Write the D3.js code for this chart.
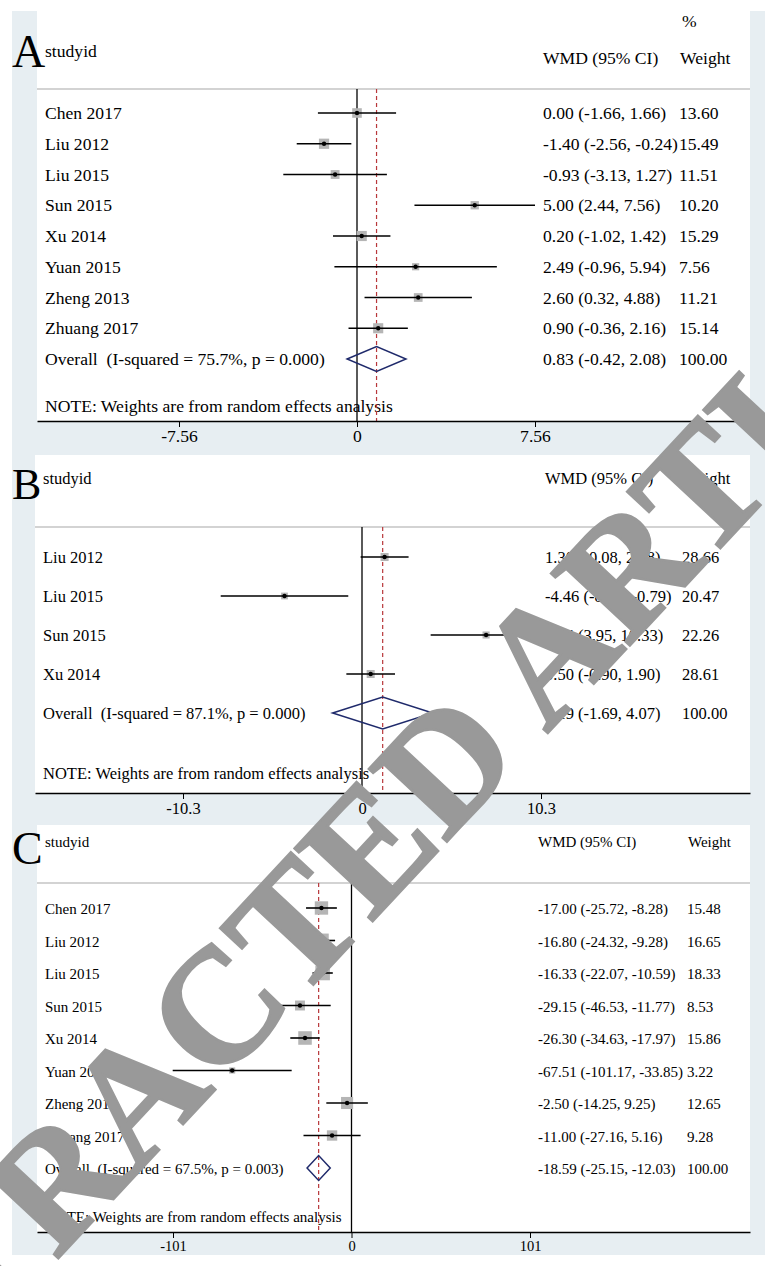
<!DOCTYPE html>
<html>
<head>
<meta charset="utf-8">
<script src="https://cdn.jsdelivr.net/npm/d3@7"></script>
<style>
body{margin:0;background:#fff}
svg text{font-family:"Liberation Serif","Times New Roman",serif;fill:#000;white-space:pre}
</style>
</head>
<body>
<div id="chart"></div>
<script>
// ---- data ----
var studiesA = ["Chen 2017","Liu 2012","Liu 2015","Sun 2015","Xu 2014","Yuan 2015","Zheng 2013","Zhuang 2017"];
var wmdA    = [0.00,-1.40,-0.93,5.00,0.20,2.49,2.60,0.90];
var loA     = [-1.66,-2.56,-3.13,2.44,-1.02,-0.96,0.32,-0.36];
var hiA     = [1.66,-0.24,1.27,7.56,1.42,5.94,4.88,2.16];
var weightA = [13.60,15.49,11.51,10.20,15.29,7.56,11.21,15.14];
var overallA = [0.83,-0.42,2.08];
var hetA = "Overall  (I-squared = 75.7%, p = 0.000)";
var ticksA = [-7.56,0,7.56];
var tickLabelsA = ["-7.56","0","7.56"];

var studiesB = ["Liu 2012","Liu 2015","Sun 2015","Xu 2014"];
var wmdB    = [1.30,-4.46,7.14,0.50];
var loB     = [-0.08,-8.13,3.95,-0.90];
var hiB     = [2.68,-0.79,10.33,1.90];
var weightB = [28.66,20.47,22.26,28.61];
var overallB = [1.19,-1.69,4.07];
var hetB = "Overall  (I-squared = 87.1%, p = 0.000)";
var ticksB = [-10.3,0,10.3];
var tickLabelsB = ["-10.3","0","10.3"];

var studiesC = ["Chen 2017","Liu 2012","Liu 2015","Sun 2015","Xu 2014","Yuan 2015","Zheng 2013","Zhuang 2017"];
var wmdC    = [-17.00,-16.80,-16.33,-29.15,-26.30,-67.51,-2.50,-11.00];
var loC     = [-25.72,-24.32,-22.07,-46.53,-34.63,-101.17,-14.25,-27.16];
var hiC     = [-8.28,-9.28,-10.59,-11.77,-17.97,-33.85,9.25,5.16];
var weightC = [15.48,16.65,18.33,8.53,15.86,3.22,12.65,9.28];
var overallC = [-18.59,-25.15,-12.03];
var hetC = "Overall  (I-squared = 67.5%, p = 0.003)";
var ticksC = [-101,0,101];
var tickLabelsC = ["-101","0","101"];

var note = "NOTE: Weights are from random effects analysis";

// ---- layout ----
var W = 765, H = 1266;
var panels = [
  {letter:"A", studies:studiesA, wmd:wmdA, lo:loA, hi:hiA, weight:weightA, overall:overallA, het:hetA, ticks:ticksA, tickLabels:tickLabelsA,
   top:11, axisY:421, left:37, sepY:89, fs:17.6, letterFs:46, letterY:67, headY:57, colHeadY:64, pct:true,
   rowTop:113, rowBottom:359, noteY:412, tickPx:[179,535], colWmd:543, colW:679, box:2.6, dia:12.5, tickFs:17.6},
  {letter:"B", studies:studiesB, wmd:wmdB, lo:loB, hi:hiB, weight:weightB, overall:overallB, het:hetB, ticks:ticksB, tickLabels:tickLabelsB,
   top:455, axisY:793, left:35, sepY:527, fs:16.5, letterFs:44, letterY:499, headY:484, colHeadY:484, pct:false,
   rowTop:557, rowBottom:713, noteY:779, tickPx:[183,541], colWmd:545, colW:682, box:1.5, dia:16, tickFs:16.5},
  {letter:"C", studies:studiesC, wmd:wmdC, lo:loC, hi:hiC, weight:weightC, overall:overallC, het:hetC, ticks:ticksC, tickLabels:tickLabelsC,
   top:825, axisY:1232, left:37, sepY:883, fs:15, letterFs:46, letterY:864, headY:847, colHeadY:847, pct:false,
   rowTop:908, rowBottom:1168, noteY:1222, tickPx:[173,530], colWmd:538, colW:687, box:3.4, dia:12.5, tickFs:14.5}
];
var plotRight = 750;
var f2 = d3.formatLocale({decimal:".", thousands:",", grouping:[3], currency:["",""], minus:"-"}).format(".2f");

var svg = d3.select("#chart").append("svg")
    .attr("width", W).attr("height", H);

// outer graph region
svg.append("rect").attr("x",12).attr("y",11).attr("width",W-12).attr("height",1244).attr("fill","#e7eef2");

panels.forEach(function(p){
  var g = svg.append("g");
  var x = d3.scaleLinear().domain([p.ticks[0], p.ticks[2]]).range(p.tickPx);
  var xa = x.copy().domain([x.invert(p.left), x.invert(plotRight)]).range([p.left, plotRight]);
  var rows = p.studies.concat(["Overall"]);
  var y = d3.scalePoint().domain(rows).range([p.rowTop, p.rowBottom]);

  g.append("rect").attr("x",p.left).attr("y",p.top).attr("width",plotRight-p.left).attr("height",p.axisY-p.top).attr("fill","#fff");

  // headers
  g.append("text").text(p.letter).attr("x",12).attr("y",p.letterY).style("font-size",p.letterFs+"px");
  g.append("text").text("studyid").attr("x",p.left+8).attr("y",p.headY).style("font-size",p.fs+"px");
  g.append("text").text("WMD (95% CI)").attr("x",p.colWmd).attr("y",p.colHeadY).style("font-size",p.fs+"px");
  g.append("text").text("Weight").attr("x",p.colW+1).attr("y",p.colHeadY).style("font-size",p.fs+"px");
  if (p.pct) g.append("text").text("%").attr("x",p.colW+3).attr("y",p.top+16).style("font-size",p.fs+"px");

  g.append("line").attr("x1",p.left).attr("x2",plotRight).attr("y1",p.sepY).attr("y2",p.sepY)
    .attr("stroke","#c4c4c4").attr("stroke-width",1.3);

  // row labels and columns
  var labels = g.selectAll(".lab").data(rows).enter();
  labels.append("text").attr("class","lab").attr("x",p.left+8).attr("y",function(d){return y(d)+6;})
    .style("font-size",p.fs+"px")
    .text(function(d){return d==="Overall" ? p.het : d;});
  var est = p.studies.map(function(s,i){return {s:s, m:p.wmd[i], lo:p.lo[i], hi:p.hi[i], w:p.weight[i]};});
  est.push({s:"Overall", m:p.overall[0], lo:p.overall[1], hi:p.overall[2], w:100});
  g.selectAll(".ci").data(est).enter().append("text").attr("x",p.colWmd).attr("y",function(d){return y(d.s)+6;})
    .style("font-size",p.fs+"px")
    .text(function(d){return f2(d.m)+" ("+f2(d.lo)+", "+f2(d.hi)+")";});
  g.selectAll(".wt").data(est).enter().append("text").attr("x",p.colW).attr("y",function(d){return y(d.s)+6;})
    .style("font-size",p.fs+"px")
    .text(function(d){return f2(d.w);});

  g.append("text").text(note).attr("x",p.left+8).attr("y",p.noteY).style("font-size",p.fs+"px");

  // zero line and overall line
  g.append("line").attr("x1",x(0)).attr("x2",x(0)).attr("y1",p.sepY).attr("y2",p.axisY)
    .attr("stroke","#000").attr("stroke-width",1.3);
  g.append("line").attr("x1",x(p.overall[0])).attr("x2",x(p.overall[0])).attr("y1",p.sepY).attr("y2",p.axisY)
    .attr("stroke","#b8373a").attr("stroke-width",1.2).attr("stroke-dasharray","4,3");

  // study markers
  var st = est.slice(0, p.studies.length);
  g.selectAll(".box").data(st).enter().append("rect")
    .attr("x",function(d){return x(d.m)-p.box*Math.sqrt(d.w)/2;})
    .attr("y",function(d){return y(d.s)-p.box*Math.sqrt(d.w)/2;})
    .attr("width",function(d){return p.box*Math.sqrt(d.w);})
    .attr("height",function(d){return p.box*Math.sqrt(d.w);})
    .attr("fill","#b5b5b5");
  g.selectAll(".cil").data(st).enter().append("line")
    .attr("x1",function(d){return x(d.lo);}).attr("x2",function(d){return x(d.hi);})
    .attr("y1",function(d){return y(d.s);}).attr("y2",function(d){return y(d.s);})
    .attr("stroke","#000").attr("stroke-width",1.6);
  g.selectAll(".pt").data(st).enter().append("circle")
    .attr("cx",function(d){return x(d.m);}).attr("cy",function(d){return y(d.s);}).attr("r",2.2).attr("fill","#000");

  // overall diamond
  var oy = y("Overall");
  g.append("path")
    .attr("d","M"+x(p.overall[1])+","+oy+"L"+x(p.overall[0])+","+(oy-p.dia)+"L"+x(p.overall[2])+","+oy+"L"+x(p.overall[0])+","+(oy+p.dia)+"Z")
    .attr("fill","none").attr("stroke","#1f2a6b").attr("stroke-width",1.5);

  // x axis
  var ax = g.append("g").attr("transform","translate(0,"+p.axisY+")")
    .call(d3.axisBottom(xa).tickValues(p.ticks).tickFormat(function(d,i){return p.tickLabels[i];}).tickSize(6).tickSizeOuter(0));
  ax.select(".domain").attr("stroke","#000").attr("stroke-width",1.3);
  ax.selectAll(".tick line").attr("stroke","#000");
  ax.selectAll(".tick text").style("font-size",p.tickFs+"px").style("font-family",'"Liberation Serif","Times New Roman",serif').attr("fill","#000");
});

// retraction watermark
svg.append("text").text("RETRACTED ARTICLE")
  .attr("transform","translate(399,814) rotate(-47)")
  .attr("text-anchor","middle").attr("dy","0.33em")
  .style("font-size","163px").style("font-weight","bold")
  .style("fill","#999").style("stroke","#999").style("stroke-width","2.5px");
</script>
</body>
</html>
